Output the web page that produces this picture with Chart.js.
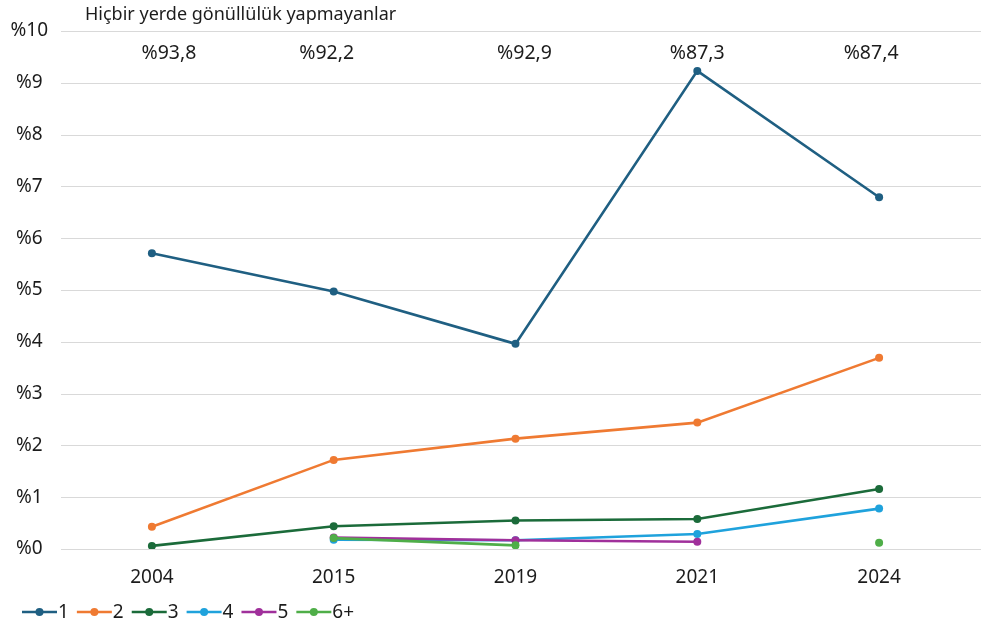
<!DOCTYPE html>
<html lang="tr">
<head>
<meta charset="utf-8">
<title>Gönüllülük</title>
<script src="https://cdn.jsdelivr.net/npm/chart.js@4.4.1/dist/chart.umd.min.js"></script>
<style>
  html, body { margin: 0; padding: 0; background: #fff; }
  #wrap { width: 983px; height: 618px; position: relative; }
</style>
</head>
<body>
<div id="wrap"><canvas id="chart"></canvas></div>
<script>
// Years on the x axis
const YEARS = ["2004", "2015", "2019", "2021", "2024"];

// Share (%) of people volunteering in N places, by year
const SERIES_NAMES = ["1", "2", "3", "4", "5", "6+"];
const S1 = [5.71, 4.97, 3.96, 9.23, 6.79];
const S2 = [0.43, 1.72, 2.13, 2.44, 3.69];
const S3 = [0.06, 0.44, 0.55, 0.58, 1.16];
const S4 = [null, 0.18, 0.17, 0.29, 0.78];
const S5 = [null, 0.22, 0.17, 0.14, null];
const S6 = [null, 0.21, 0.07, null, 0.12];

// Share of people volunteering nowhere, printed along the top
const NONE_TITLE = "Hiçbir yerde gönüllülük yapmayanlar";
const NONE_LABELS = ["%93,8", "%92,2", "%92,9", "%87,3", "%87,4"];

const COLORS = ["#1f5f82", "#ef7a32", "#1b6b3a", "#1fa2dc", "#a0309b", "#4fae48"];
const FONT = "'Noto Sans', sans-serif";
const TEXT = "#1c1c1c";
const GRID = "#d9d9d9";

// small horizontal nudges for the top labels (text boxes are not exactly centred)
const LABEL_NUDGE = [17, -7, 9, 0, -8];

const decor = {
  id: "decor",
  beforeDatasetsDraw(chart) {
    const { ctx, chartArea, scales: { y } } = chart;
    ctx.save();
    ctx.strokeStyle = GRID;
    ctx.lineWidth = 1;
    y.ticks.forEach(t => {
      const py = Math.round(y.getPixelForValue(t.value)) + 0.5;
      ctx.beginPath();
      ctx.moveTo(chartArea.left, py);
      ctx.lineTo(chart.width - 2, py);
      ctx.stroke();
    });
    ctx.restore();
  },
  afterDraw(chart) {
    const { ctx, scales: { x } } = chart;
    ctx.save();
    ctx.fillStyle = TEXT;
    ctx.textBaseline = "alphabetic";

    ctx.font = "18px " + FONT;
    ctx.textAlign = "left";
    ctx.fillText(NONE_TITLE, 85, 20);

    ctx.font = "19.5px " + FONT;
    ctx.textAlign = "center";
    NONE_LABELS.forEach((s, i) => {
      ctx.fillText(s, x.getPixelForValue(i) + LABEL_NUDGE[i], 59);
    });

    // legend: line with a dot, then the series name
    let lx = 22;
    const ly = 612;
    ctx.font = "19px " + FONT;
    ctx.textAlign = "left";
    ctx.textBaseline = "middle";
    chart.data.datasets.forEach(ds => {
      ctx.strokeStyle = ds.borderColor;
      ctx.fillStyle = ds.borderColor;
      ctx.lineWidth = 2.6;
      ctx.beginPath();
      ctx.moveTo(lx, ly);
      ctx.lineTo(lx + 35, ly);
      ctx.stroke();
      ctx.beginPath();
      ctx.arc(lx + 17.5, ly, 4, 0, Math.PI * 2);
      ctx.fill();
      ctx.fillStyle = TEXT;
      ctx.fillText(ds.label, lx + 36, ly + 1);
      lx += 36 + ctx.measureText(ds.label).width + 8;
    });
    ctx.restore();
  }
};

const values = [S1, S2, S3, S4, S5, S6];

new Chart(document.getElementById("chart"), {
  type: "line",
  data: {
    labels: YEARS,
    datasets: values.map((data, i) => ({
      label: SERIES_NAMES[i],
      data,
      borderColor: COLORS[i],
      backgroundColor: COLORS[i],
      pointBackgroundColor: COLORS[i],
      pointBorderWidth: 0,
      borderWidth: 2.6,
      pointRadius: 4,
      tension: 0,
      spanGaps: false,
      order: -i
    }))
  },
  options: {
    responsive: true,
    maintainAspectRatio: false,
    animation: false,
    layout: { padding: { top: 31, right: 13, bottom: 0, left: 0 } },
    plugins: {
      legend: { display: false },
      tooltip: { enabled: false }
    },
    scales: {
      x: {
        type: "category",
        offset: true,
        grid: { display: false },
        border: { display: false },
        ticks: { color: TEXT, font: { family: FONT, size: 19 }, padding: 9 },
        afterFit(s) { s.height = 69; }
      },
      y: {
        min: 0,
        max: 10,
        grid: { display: false, drawTicks: false },
        border: { display: false },
        ticks: {
          stepSize: 1,
          color: TEXT,
          crossAlign: "center",
          padding: 13,
          font: { family: FONT, size: 19 },
          callback: v => "%" + v
        },
        afterFit(s) { s.width = 61; }
      }
    }
  },
  plugins: [decor]
});
</script>
</body>
</html>
